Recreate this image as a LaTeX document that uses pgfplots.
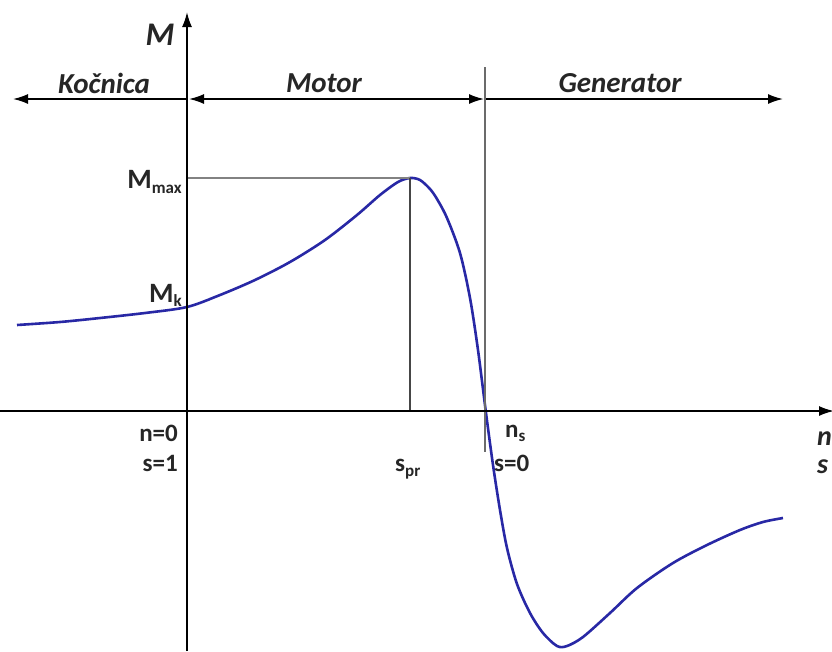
\documentclass[border=0pt]{standalone}
\usepackage{pgfplots}
\pgfplotsset{compat=1.18}
\usepackage{fontspec}
\setmainfont{Carlito}
\usetikzlibrary{arrows.meta}
\definecolor{curve}{RGB}{40,40,165}
\definecolor{lgray}{RGB}{130,130,130}
\definecolor{dgray}{RGB}{70,70,70}
\newcommand{\freg}{\fontsize{29pt}{32pt}\selectfont}
\newcommand{\fbig}{\fontsize{28pt}{32pt}\selectfont}
\newcommand{\fmid}{\fontsize{25pt}{29pt}\selectfont}
\newcommand{\fsub}{\fontsize{17pt}{19pt}\selectfont}
\begin{document}
\begin{tikzpicture}
\begin{axis}[
  scale only axis, width=832pt, height=651pt,
  xmin=0, xmax=832, ymin=0, ymax=651, y dir=reverse,
  axis lines=none, clip=false,
]
% data curve (pixel coordinates, y downward)
\addplot[curve, line width=2.6pt, smooth] coordinates {
(17,325) (60,322) (100,318) (145,313) (187,307) (220,295) (255,280) (290,262)
(325,240) (357,215) (380,195) (398,182) (410,178) (420,180) (430,189)
(437,199) (447,218) (460,253) (470,298) (478,350) (486,413) (493,465)
(500,510) (507,548) (517,584) (530,613) (543,633) (557,646) (567,646) (583,637)
(610,613) (637,588) (673,563) (707,545) (740,530) (763,522) (783,518)
};
% helper lines
\addplot[lgray, line width=1.8pt] coordinates {(187,178) (410,178)};
\addplot[dgray, line width=1.4pt] coordinates {(410,178) (410,411)};
\addplot[dgray!80, line width=1.8pt] coordinates {(485,67) (485,452)};
% axes
\addplot[black, line width=1.8pt, -{Latex[length=15pt,width=10pt]}] coordinates {(187,651) (187,12)};
\addplot[black, line width=1.8pt, -{Latex[length=15pt,width=10pt]}] coordinates {(0,411) (834,411)};
% region arrows
\addplot[black, line width=1.6pt, -{Latex[length=15pt,width=10pt]}] coordinates {(187,99) (13,99)};
\addplot[black, line width=1.6pt, {Latex[length=15pt,width=10pt]}-{Latex[length=15pt,width=10pt]}] coordinates {(189,99) (484,99)};
\addplot[black, line width=1.6pt, -{Latex[length=15pt,width=10pt]}] coordinates {(486,99) (783,99)};
% texts
\node[font=\freg\bfseries\itshape, text=black!85] at (axis cs:104,83) {Kočnica};
\node[font=\freg\bfseries\itshape, text=black!85] at (axis cs:324,83) {Motor};
\node[font=\freg\bfseries\itshape, text=black!85] at (axis cs:620,83) {Generator};
\node[font=\fontsize{33pt}{36pt}\selectfont\bfseries\itshape, text=black!85, anchor=east] at (axis cs:178,35) {M};
\node[anchor=base east, inner sep=0pt, text=black!85] at (axis cs:182,188)
  {{\fbig\bfseries M}{\fsub\bfseries\raisebox{-5pt}{max}}};
\node[anchor=base east, inner sep=0pt, text=black!85] at (axis cs:182,302)
  {{\fbig\bfseries M}{\fsub\bfseries\raisebox{-4pt}{k}}};
\node[anchor=base east, inner sep=0pt, text=black!85, font=\fmid\bfseries] at (axis cs:178,441) {n=0};
\node[anchor=base east, inner sep=0pt, text=black!85, font=\fmid\bfseries] at (axis cs:178,471) {s=1};
\node[anchor=base west, inner sep=0pt, text=black!85] at (axis cs:395,471)
  {{\fmid\bfseries s}{\fsub\bfseries\raisebox{-5pt}{pr}}};
\node[anchor=base west, inner sep=0pt, text=black!85] at (axis cs:505,437)
  {{\fmid\bfseries n}{\fsub\bfseries\raisebox{-4pt}{s}}};
\node[anchor=base west, inner sep=0pt, text=black!85, font=\fmid\bfseries] at (axis cs:494,471) {s=0};
\node[anchor=base west, inner sep=0pt, text=black!85, font=\fbig\bfseries\itshape] at (axis cs:817,445) {n};
\node[anchor=base west, inner sep=0pt, text=black!85, font=\fbig\bfseries\itshape] at (axis cs:817,473) {s};
\end{axis}
\pgfresetboundingbox
\path (current axis.south west) rectangle (current axis.north east);
\end{tikzpicture}
\end{document}
